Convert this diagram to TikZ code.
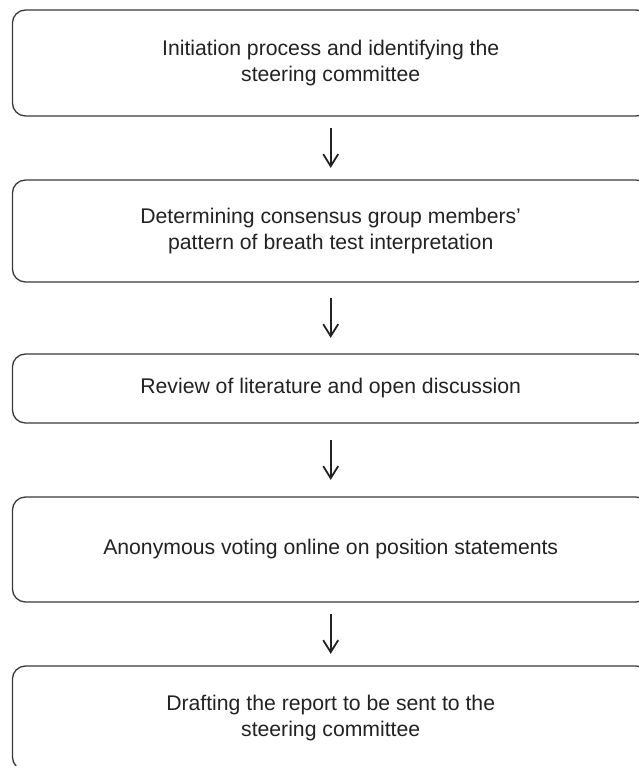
\documentclass[tikz,border=0pt]{standalone}
\usepackage{fontspec}
\setmainfont{Liberation Sans}
\usetikzlibrary{arrows.meta}
\definecolor{boxline}{HTML}{3A3A3A}
\definecolor{txt}{HTML}{222222}
\tikzset{
  stagebox/.style={draw=boxline, line width=1.3pt, rounded corners=13pt,
    minimum width=636.5pt, inner sep=0pt, align=center, text=txt,
    font=\fontsize{21.2}{25.5}\selectfont},
  arr/.style={draw=txt, line width=1.6pt, -{Straight Barb[length=12pt,width=15pt,line width=1.8pt]}}
}
\begin{document}
\begin{tikzpicture}[x=1pt,y=-1pt]
\useasboundingbox (0,0) rectangle (639,766);
\fill[white] (0,0) rectangle (639,766);
\clip (0,0) rectangle (639,766);
\node[stagebox, minimum height=106pt] (b1) at (330.7,63) {Initiation process and identifying the\\steering committee};
\node[stagebox, minimum height=102pt] (b2) at (330.7,231) {Determining consensus group members’\\pattern of breath test interpretation};
\node[stagebox, minimum height=69pt] (b3) at (330.7,388.5) {Review of literature and open discussion};
\node[stagebox, minimum height=105pt] (b4) at (330.7,549.5) {Anonymous voting online on position statements};
\node[stagebox, minimum height=104pt] (b5) at (330.7,718) {Drafting the report to be sent to the\\steering committee};
\draw[arr, shorten <=11.5pt, shorten >=11.5pt] (b1.south) -- (b2.north);
\draw[arr, shorten <=15.5pt, shorten >=15.5pt] (b2.south) -- (b3.north);
\draw[arr, shorten <=16.5pt, shorten >=16.5pt] (b3.south) -- (b4.north);
\draw[arr, shorten <=11.5pt, shorten >=11.5pt] (b4.south) -- (b5.north);
\end{tikzpicture}
\end{document}
